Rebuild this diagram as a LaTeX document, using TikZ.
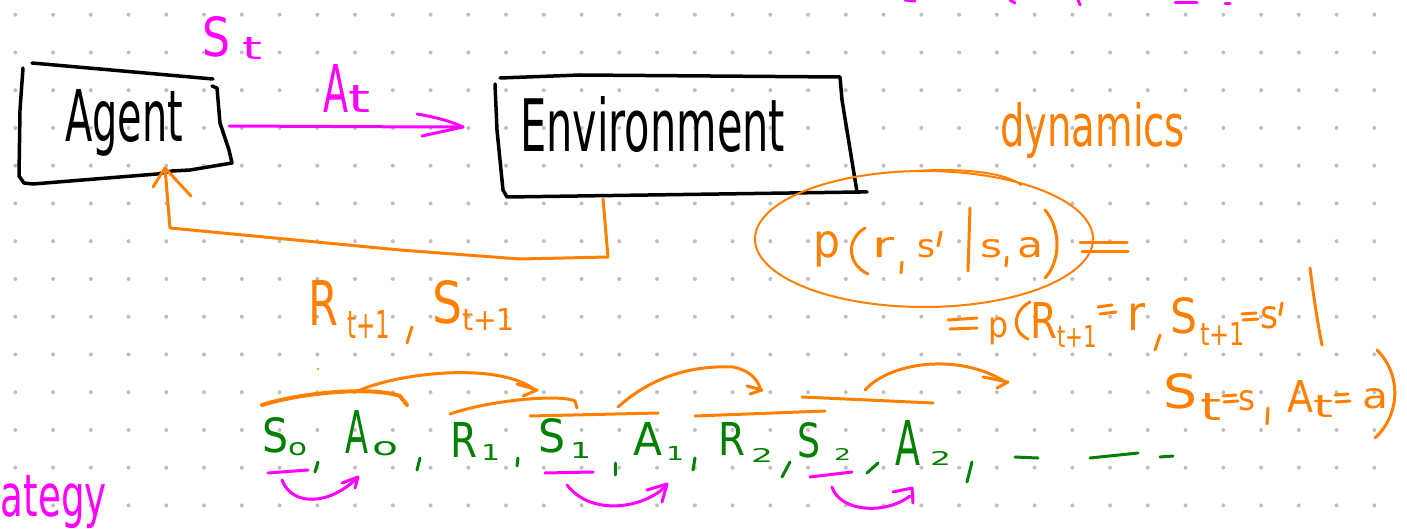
\documentclass[tikz,border=0pt]{standalone}
\usepackage{fontspec}
\usepackage{graphicx}
\newfontfamily\hand{DejaVu Sans}
\definecolor{pinkink}{RGB}{255,0,255}
\definecolor{orangeink}{RGB}{255,128,0}
\definecolor{greenink}{RGB}{0,128,0}
\definecolor{dotgray}{RGB}{192,192,192}
\tikzset{
  handtext/.style={anchor=base west, inner sep=0pt, outer sep=0pt},
  blacktext/.style={handtext, text=black},
  pinktext/.style={handtext, text=pinkink},
  orangetext/.style={handtext, text=orangeink},
  greentext/.style={handtext, text=greenink},
  pen/.style={line cap=round, line join=round},
  boxpen/.style={pen, draw=black, line width=3.5pt},
  pinkpen/.style={pen, draw=pinkink, line width=3pt},
  orangepen/.style={pen, draw=orangeink, line width=3pt},
  thinorange/.style={pen, draw=orangeink, line width=2pt},
  greenpen/.style={pen, draw=greenink, line width=3pt},
}
% handwritten word fitted into a box: name, x, baseline y, width, height, style, text
\newcommand\hw[7]{\node[#6] (#1) at (#2,#3) {\resizebox{#4pt}{#5pt}{\hand #7}};}
\begin{document}
\begin{tikzpicture}[x=1pt,y=-1pt]
\useasboundingbox (0,0) rectangle (1407,529);
\fill[white] (0,0) rectangle (1407,529);
% dotted paper
\foreach \i in {0,...,36}{\foreach \j in {0,...,13}{
  \fill[dotgray] ({15.3+37.75*\i},{14.7+37.75*\j}) circle[radius=2];}}

% ---------- agent / environment loop ----------
\draw[boxpen] (32,63) -- (213,79);
\draw[boxpen] (23,68) -- (20,110) -- (19,176) -- (24,183) -- (33,184) -- (157,174)
  -- (172,171) -- (190,170) -- (232,163) -- (229,150) -- (220,123) -- (217,88) -- (212,86);
\hw{agent}{65}{142}{118}{52}{blacktext}{Agent}

\draw[boxpen] (500,78) -- (580,75) -- (840,77) -- (842,100) -- (857,192) -- (867,192);
\draw[boxpen] (495,84) -- (497,130) -- (503,190) -- (507,197) -- (860,192);
\hw{env}{520}{152}{265}{55}{blacktext}{Environment}

\coordinate (agentR) at (229,126);
\coordinate (envL) at (463,127);
\coordinate (envB) at (603,199);
\coordinate (agentB) at (165,168);

\draw[pinkpen] (agentR) -- (433,127) -- (envL);
\draw[pinkpen] (417,114) .. controls (440,118) and (452,122) .. (envL) -- (422,136);
\hw{stS}{202}{57}{28}{40}{pinktext}{S}
\hw{stt}{242}{60}{20}{22}{pinktext}{t}
\hw{atA}{323}{113}{25}{48}{pinktext}{A}
\hw{att}{348}{113}{22}{27}{pinktext}{t}

\draw[orangepen] (envB) -- (608,257) -- (520,259) -- (400,250) -- (170,228) -- (agentB);
\draw[orangepen] (153,187) -- (agentB) -- (191,196);

\hw{rR}{308}{325}{30}{45}{orangetext}{R}
\hw{rsub}{347}{338}{43}{28}{orangetext}{t+1}
\draw[orangepen] (412,327) -- (407,343);
\hw{sS}{432}{323}{30}{43}{orangetext}{S}
\hw{ssub}{462}{330}{53}{22}{orangetext}{t+1}

% ---------- dynamics ----------
\hw{dyn}{1000}{147}{185}{44}{orangetext}{dynamics}
\draw[thinorange] (924,239) ellipse[x radius=169, y radius=68];
\draw[thinorange] (915,171) .. controls (960,168) and (1005,172) .. (1021,185);

\hw{p1}{813}{258}{27}{26}{orangetext}{p}
\draw[orangepen] (865,228) .. controls (845,240) and (848,265) .. (868,274);
\hw{r1}{872}{258}{22}{20}{orangetext}{r}
\draw[orangepen] (902,262) -- (901,273);
\hw{s1}{917}{258}{18}{18}{orangetext}{s}
\draw[orangepen] (941,232) -- (938,246);
\draw[orangepen] (970,208) -- (968,271);
\hw{s2}{980}{258}{22}{18}{orangetext}{s}
\draw[orangepen] (1007,257) -- (1006,266);
\hw{a1}{1017}{258}{26}{20}{orangetext}{a}
\draw[orangepen] (1045,210) .. controls (1062,230) and (1060,262) .. (1045,278);
\draw[orangepen] (1080,243) -- (1127,243);
\draw[orangepen] (1082,252) -- (1128,252);

\draw[orangepen] (948,320) -- (977,318);
\draw[orangepen] (950,329) -- (977,328);
\hw{p2}{988}{337}{20}{20}{orangetext}{p}
\draw[orangepen] (1030,302) .. controls (1012,312) and (1012,332) .. (1028,339);
\hw{R2}{1030}{338}{27}{36}{orangetext}{R}
\hw{R2sub}{1057}{347}{40}{22}{orangetext}{t+1}
\draw[orangepen] (1098,307) -- (1112,305);
\draw[orangepen] (1100,314) -- (1116,312);
\hw{r2}{1127}{330}{18}{27}{orangetext}{r}
\draw[orangepen] (1160,335) -- (1155,350);
\hw{S2}{1170}{333}{27}{36}{orangetext}{S}
\hw{S2sub}{1200}{345}{45}{23}{orangetext}{t+1}
\draw[orangepen] (1242,314) -- (1256,313);
\draw[orangepen] (1243,320) -- (1258,319);
\hw{s3}{1260}{328}{18}{22}{orangetext}{s}
\draw[orangepen] (1282,303) -- (1280,315);
\draw[orangepen] (1310,268) .. controls (1314,300) and (1318,325) .. (1322,345);

\hw{S3}{1163}{408}{34}{35}{orangetext}{S}
\hw{t3}{1200}{420}{21}{27}{orangetext}{t}
\draw[orangepen] (1223,396) -- (1236,395);
\draw[orangepen] (1224,402) -- (1238,401);
\hw{s4}{1238}{410}{17}{20}{orangetext}{s}
\draw[orangepen] (1268,408) -- (1267,424);
\hw{A3}{1287}{412}{26}{32}{orangetext}{A}
\hw{t4}{1313}{417}{20}{22}{orangetext}{t}
\draw[orangepen] (1335,395) -- (1348,394);
\draw[orangepen] (1336,402) -- (1350,401);
\hw{a3}{1362}{408}{26}{20}{orangetext}{a}
\draw[orangepen] (1377,350) .. controls (1402,375) and (1400,415) .. (1375,438);

% ---------- trajectory ----------
\hw{gS0}{262}{452}{26}{35}{greentext}{S}
\hw{g0a}{288}{455}{19}{13}{greentext}{o}
\draw[greenpen] (318,462) -- (315,472);
\hw{gA0}{345}{453}{23}{43}{greentext}{A}
\hw{g0b}{372}{455}{26}{14}{greentext}{o}
\draw[greenpen] (420,458) -- (417,470);
\hw{gR1}{450}{457}{27}{35}{greentext}{R}
\hw{g1a}{481}{460}{19}{16}{greentext}{1}
\draw[greenpen] (518,458) -- (517,466);
\hw{gS1}{538}{452}{27}{34}{greentext}{S}
\hw{g1b}{570}{458}{21}{16}{greentext}{1}
\draw[greenpen] (615,463) -- (615,475);
\hw{gA1}{633}{455}{29}{33}{greentext}{A}
\hw{g1c}{666}{460}{18}{14}{greentext}{1}
\draw[greenpen] (695,458) -- (693,470);
\hw{gR2}{718}{455}{27}{33}{greentext}{R}
\hw{g2a}{751}{462}{22}{14}{greentext}{2}
\draw[greenpen] (790,462) -- (782,477);
\hw{gS2}{797}{457}{23}{35}{greentext}{S}
\hw{g2b}{834}{460}{17}{12}{greentext}{2}
\draw[greenpen] (878,463) -- (867,473);
\hw{gA2}{895}{465}{25}{45}{greentext}{A}
\hw{g2c}{930}{465}{21}{14}{greentext}{2}
\draw[greenpen] (972,462) -- (967,482);
\draw[greenpen] (1015,457) -- (1038,458);
\draw[greenpen] (1090,458) -- (1138,453);
\draw[greenpen] (1160,457) -- (1173,456);

% orange groupings and transitions
\fill[orangeink] (318,369) circle[radius=1.2];
\draw[orangepen, line width=4pt] (262,405) .. controls (300,393) and (370,386) .. (400,396) -- (407,405);
\draw[orangepen] (358,391) .. controls (400,372) and (500,362) .. (535,390);
\draw[orangepen] (517,384) -- (537,390) -- (523,396);
\draw[orangepen] (450,414) .. controls (490,400) and (560,394) .. (575,401) -- (577,408);
\draw[orangepen] (530,416) -- (658,413);
\draw[orangepen] (618,407) .. controls (650,378) and (690,365) .. (733,367)
  .. controls (748,370) and (757,378) .. (760,388);
\draw[orangepen] (747,386) -- (762,390) -- (750,394);
\draw[orangepen] (695,416) -- (825,411);
\draw[orangepen] (802,397) -- (933,403);
\draw[orangepen] (865,390) .. controls (890,362) and (960,352) .. (1007,383);
\draw[orangepen] (983,377) -- (1008,382) -- (997,388);

% policy steps
\draw[pinkpen] (268,473) -- (308,470);
\draw[pinkpen] (282,480) .. controls (292,507) and (330,505) .. (357,478);
\draw[pinkpen] (342,483) -- (358,477) -- (355,488);
\draw[pinkpen] (545,473) -- (593,472);
\draw[pinkpen] (567,485) .. controls (590,515) and (640,510) .. (665,487);
\draw[pinkpen] (647,490) -- (667,484) -- (662,502);
\draw[pinkpen] (810,477) -- (852,472);
\draw[pinkpen] (832,487) .. controls (840,512) and (885,515) .. (910,496);
\draw[pinkpen] (893,492) -- (912,488) -- (913,503);

\hw{strat}{1}{516}{106}{41}{pinktext}{ategy}

% ink reaching in from above
\draw[pinkpen] (905,0) -- (915,1);
\draw[pinkpen] (1010,0) -- (1015,3);
\draw[pinkpen] (1078,0) -- (1080,5);
\draw[pinkpen] (1175,3) -- (1197,3);
\draw[pinkpen] (1225,4) -- (1230,4);
\end{tikzpicture}
\end{document}
